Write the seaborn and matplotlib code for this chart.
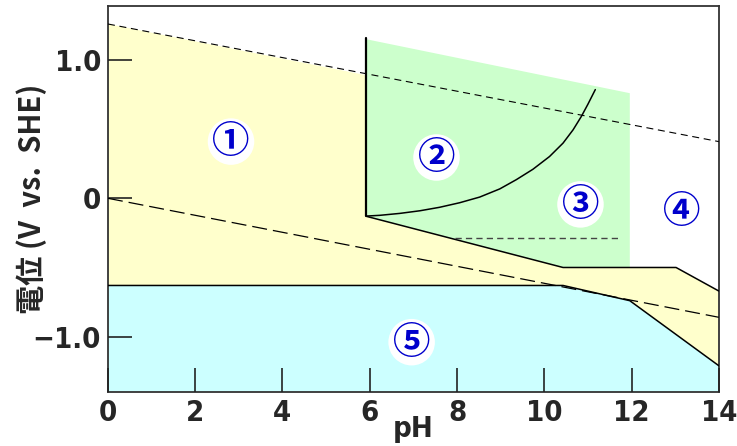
import numpy as np
import pandas as pd
import matplotlib
matplotlib.use("Agg")
import matplotlib.pyplot as plt
from matplotlib import font_manager
import seaborn as sns

# axis ticks
ph_ticks = [0, 2, 4, 6, 8, 10, 12, 14]
e_ticks = [-1.0, 0.0, 1.0]
e_tick_labels = ["\u22121.0", "0", "1.0"]

# water stability lines (dashed)
water_ph = [0, 14]
o2_line = [1.26, 0.41]
h2_line = [0.0, -0.86]

# region polygons (pH, E)
yellow_ph = [0, 0, 5.92, 5.92, 10.43, 13.02, 14, 14, 11.96, 10.43]
yellow_e = [-0.63, 1.26, 0.89, -0.13, -0.50, -0.50, -0.67, -1.21, -0.74, -0.63]
green_ph = [5.92, 11.96, 11.96, 10.43, 5.92]
green_e = [1.15, 0.76, -0.50, -0.50, -0.13]
cyan_ph = [0, 10.43, 11.96, 14, 14, 0]
cyan_e = [-0.63, -0.63, -0.74, -1.21, -1.40, -1.40]

# solid boundaries
upper_bound_ph = [5.92, 10.43, 13.02, 14]
upper_bound_e = [-0.13, -0.50, -0.50, -0.67]
lower_bound_ph = [0, 10.43, 11.96, 14]
lower_bound_e = [-0.63, -0.63, -0.74, -1.21]
vert_ph = [5.92, 5.92]
vert_e = [-0.13, 1.16]
curve_ph = [5.94, 6.23, 6.69, 7.15, 7.60, 8.06, 8.52, 8.98, 9.36, 9.74,
            10.12, 10.43, 10.66, 10.85, 11.00, 11.17]
curve_e = [-0.128, -0.123, -0.109, -0.090, -0.065, -0.032, 0.009, 0.068, 0.135, 0.210,
           0.302, 0.399, 0.495, 0.592, 0.680, 0.786]
short_ph = [7.95, 11.73]
short_e = [-0.29, -0.29]

# region labels
labels = ["\u2460", "\u2461", "\u2462", "\u2463", "\u2464"]
label_ph = [2.82, 7.53, 10.83, 13.15, 6.96]
label_e = [0.41, 0.295, -0.044, -0.097, -1.04]

sns.set_style("white")
plt.rcParams['font.family'] = ['Noto Sans CJK JP', 'DejaVu Sans']

# a narrow face for the numbers if one is around
num_font = dict(family=['Noto Sans CJK JP'])
try:
    p = font_manager.findfont(font_manager.FontProperties(family='DejaVu Sans', stretch='condensed', weight='bold'),
                              fallback_to_default=False)
    if 'Condensed' in p:
        num_font = dict(family=['DejaVu Sans'], fontstretch='condensed')
except Exception:
    pass

fig = plt.figure(figsize=(7.37, 4.46), dpi=100)
ax = fig.add_axes([0.1465, 0.1211, 0.8288, 0.8654])
ax.set_axisbelow(False)

ax.fill(yellow_ph, yellow_e, color="#FFFFCC", lw=0, zorder=1)
ax.fill(green_ph, green_e, color="#CCFFCC", lw=0, zorder=1)
ax.fill(cyan_ph, cyan_e, color="#CCFFFF", lw=0, zorder=1)

def draw(x, y, **kw):
    sns.lineplot(x=x, y=y, sort=False, estimator=None, ax=ax, **kw)

draw(upper_bound_ph, upper_bound_e, color="black", lw=1.1, zorder=3)
draw(lower_bound_ph, lower_bound_e, color="black", lw=1.1, zorder=3)
draw(vert_ph, vert_e, color="black", lw=1.6, zorder=3)
draw(curve_ph, curve_e, color="black", lw=1.1, zorder=3)
draw(short_ph, short_e, color="#444444", lw=1.0, linestyle=(0, (4.5, 3)), zorder=3)
draw(water_ph, o2_line, color="black", lw=0.8, linestyle=(0, (6.3, 4.2)), zorder=4)
draw(water_ph, h2_line, color="black", lw=0.9, linestyle=(0, (12, 4.8)), zorder=4)

for t, x, y in zip(labels, label_ph, label_e):
    ax.text(x, y, t, color="#0000CC", fontsize=27, ha="center", va="center",
            family=['Noto Sans CJK JP'], fontweight="bold", zorder=5,
            bbox=dict(boxstyle="circle,pad=0.1", fc="white", ec="none"))

ax.set_xlim(0, 14)
ax.set_ylim(-1.40, 1.39)
ax.set_xticks(ph_ticks)
ax.set_yticks(e_ticks)
ax.set_yticklabels(e_tick_labels)
ax.tick_params(bottom=True, left=True, direction="in", length=17, width=1.2,
               color="#222222", labelsize=21, pad=5)
for lbl in ax.get_xticklabels() + ax.get_yticklabels():
    lbl.set_fontweight("bold")
    lbl.set_fontfamily(num_font['family'])
    if 'fontstretch' in num_font:
        lbl.set_fontstretch('condensed')
for s in ax.spines.values():
    s.set_color("#333333")
    s.set_linewidth(1.3)

ax.set_xlabel("pH", fontsize=21, fontweight="bold", **num_font)
ax.set_ylabel("電位 (V  vs.  SHE)", fontsize=21, fontweight="bold",
              family=['Noto Sans CJK JP'])
ax.xaxis.set_label_coords(0.5, -0.06)
ax.yaxis.set_label_coords(-0.10, 0.5)

fig.savefig("out.png", dpi=100)
